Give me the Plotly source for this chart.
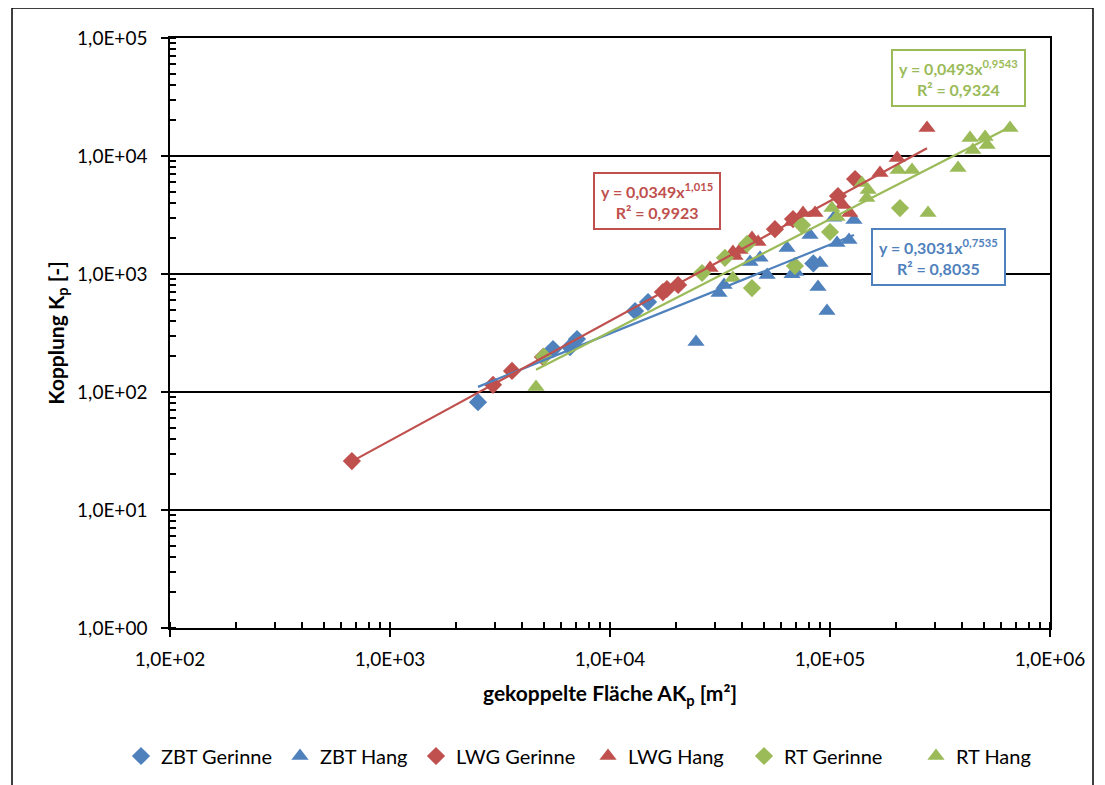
import numpy as np
import plotly.graph_objects as go

BLUE = "#4F81BD"
RED = "#C0504D"
GREEN = "#9BBB59"

# ---- data ----
zbt_gerinne_x = [2512, 5508, 6579, 7080, 13000, 14890, 84000]
zbt_gerinne_y = [82, 231, 240, 281, 485, 579, 1230]

zbt_hang_x = [24600, 31300, 33000, 43300, 48100, 51800, 63800, 67200, 70000, 81100,
              90100, 88200, 96900, 107600, 122000, 128500, 104000]
zbt_hang_y = [265, 690, 807, 1265, 1370, 981, 1660, 997, 1040, 2140,
              1240, 777, 485, 1834, 1940, 2870, 2990]

lwg_gerinne_x = [671, 2940, 3586, 4955, 17400, 18150, 20400, 56200, 67900, 108700, 130000]
lwg_gerinne_y = [26, 115, 151, 198, 703, 746, 807, 2400, 2920, 4580, 6380]

lwg_hang_x = [28500, 36200, 39000, 37000, 44200, 47100, 67200, 75400, 85500, 114600,
              123000, 168700, 202000, 276000]
lwg_hang_y = [1125, 1535, 1600, 1420, 2020, 1870, 2760, 3290, 3290, 3850,
              3290, 7180, 9620, 17250]

rt_gerinne_x = [5000, 26200, 33300, 42000, 44200, 69300, 74600, 100000, 208000]
rt_gerinne_y = [200, 1020, 1370, 1800, 760, 1170, 2600, 2270, 3620]

rt_hang_x = [4610, 36200, 102000, 107600, 139700, 149000, 147000, 204000, 236000, 382000,
             433000, 446000, 507000, 518000, 658000, 279000]
rt_hang_y = [110, 925, 3620, 3040, 5900, 5150, 4400, 7600, 7600, 7900,
             14200, 11250, 14500, 12400, 17250, 3290]

# power trendlines y = a * x^b
trend_names = ["ZBT", "LWG", "RT"]
trend_a = [0.3031, 0.0349, 0.0493]
trend_b = [0.7535, 1.015, 0.9543]
trend_r2 = ["0,8035", "0,9923", "0,9324"]
trend_a_txt = ["0,3031", "0,0349", "0,0493"]
trend_b_txt = ["0,7535", "1,015", "0,9543"]

tick_vals_x = [1e2, 1e3, 1e4, 1e5, 1e6]
tick_text_x = ["1,0E+02", "1,0E+03", "1,0E+04", "1,0E+05", "1,0E+06"]
tick_vals_y = [1e0, 1e1, 1e2, 1e3, 1e4, 1e5]
tick_text_y = ["1,0E+00", "1,0E+01", "1,0E+02", "1,0E+03", "1,0E+04", "1,0E+05"]

FONT = "Lato, Carlito, Calibri, sans-serif"

# page body adds an 8px offset; plot area target on screen: x 170..1050, y 38..628
OFF = 8
L, R, T, B = 170 - OFF, 1105 - 1050 + OFF, 38 - OFF, 785 - 628 + OFF
PW, PH = 1050 - 170, 628 - 38

fig = go.Figure()

series = [
    ("ZBT Gerinne", zbt_gerinne_x, zbt_gerinne_y, BLUE, "diamond"),
    ("ZBT Hang", zbt_hang_x, zbt_hang_y, BLUE, "triangle-up"),
    ("LWG Gerinne", lwg_gerinne_x, lwg_gerinne_y, RED, "diamond"),
    ("LWG Hang", lwg_hang_x, lwg_hang_y, RED, "triangle-up"),
    ("RT Gerinne", rt_gerinne_x, rt_gerinne_y, GREEN, "diamond"),
    ("RT Hang", rt_hang_x, rt_hang_y, GREEN, "triangle-up"),
]
legend_px = [121, 280, 416, 588, 744, 916]   # screen x of each legend entry
legend_ids = ["legend", "legend2", "legend3", "legend4", "legend5", "legend6"]

for k, (name, xs, ys, col, sym) in enumerate(series):
    fig.add_trace(go.Scatter(
        x=xs, y=ys, mode="markers", name=name, legend=legend_ids[k],
        marker=dict(symbol=sym, color=col, size=14 if sym == "diamond" else 15,
                    line=dict(width=0)),
    ))

groups = [
    (zbt_gerinne_x + zbt_hang_x, BLUE),
    (lwg_gerinne_x + lwg_hang_x, RED),
    (rt_gerinne_x + rt_hang_x, GREEN),
]
for i, (xs, col) in enumerate(groups):
    xl = np.geomspace(min(xs), max(xs), 60)
    yl = trend_a[i] * xl ** trend_b[i]
    fig.add_trace(go.Scatter(x=xl, y=yl, mode="lines", showlegend=False,
                             line=dict(color=col, width=2.2), hoverinfo="skip"))

# trendline labels: (log10 x, log10 y) centre positions
label_pos = [(5.495, 3.144), (4.214, 3.619), (5.586, 4.661)]
label_col = [BLUE, RED, GREEN]
for i in range(3):
    fig.add_annotation(
        x=label_pos[i][0], y=label_pos[i][1], xref="x", yref="y",
        text=(f"<b>y = {trend_a_txt[i]}x<sup>{trend_b_txt[i]}</sup></b><br>"
              f"<b>R² = {trend_r2[i]}</b>"),
        showarrow=False, align="center",
        font=dict(family=FONT, size=16, color=label_col[i]),
        bordercolor=label_col[i], borderwidth=2, borderpad=6, bgcolor="white",
    )

# outer chart border
fig.add_shape(type="rect", xref="paper", yref="paper",
              x0=(12 - 170) / PW, x1=(1093 - 170) / PW,
              y0=(628 - 800) / PH, y1=(628 - 8) / PH,
              line=dict(color="black", width=1.5), layer="below")

axis_common = dict(
    type="log", showline=True, linecolor="black", linewidth=1.5, mirror=True,
    ticks="outside", ticklen=7, tickcolor="black", tickwidth=1.5,
    tickfont=dict(family=FONT, size=19, color="black"),
    minor=dict(ticks="inside", ticklen=6, tickcolor="black", dtick="D1", showgrid=False),
    zeroline=False,
)

fig.update_xaxes(**axis_common, range=[2, 6], tickvals=tick_vals_x, ticktext=tick_text_x,
                 showgrid=False, ticklabelstandoff=6,
                 title=dict(text="<b>gekoppelte Fläche AK<sub>p</sub> [m²]</b>",
                            font=dict(family=FONT, size=21, color="black"), standoff=18))
fig.update_yaxes(**axis_common, range=[0, 5], tickvals=tick_vals_y, ticktext=tick_text_y,
                 showgrid=True, gridcolor="black", gridwidth=1.5, ticklabelstandoff=10,
                 title=dict(text="<b>Kopplung K<sub>p</sub> [-]</b>",
                            font=dict(family=FONT, size=21, color="black"), standoff=7))

legend_style = dict(orientation="h", xanchor="left", y=(628 - 756) / PH, yanchor="middle",
                    font=dict(family=FONT, size=20, color="black"),
                    itemwidth=30, bgcolor="rgba(0,0,0,0)")
legend_layout = {}
for k, lid in enumerate(legend_ids):
    legend_layout[lid] = dict(legend_style, x=(legend_px[k] - OFF - L) / PW)

fig.update_layout(
    width=1105, height=785,
    margin=dict(l=L, r=R, t=T, b=B),
    paper_bgcolor="white", plot_bgcolor="white",
    font=dict(family=FONT, color="black"),
    showlegend=True,
    **legend_layout,
)

fig.write_html("out.html")
